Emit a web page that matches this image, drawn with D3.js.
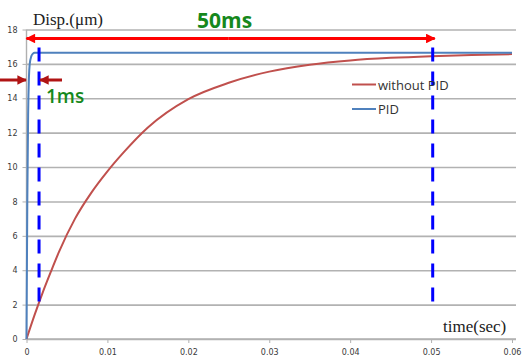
<!DOCTYPE html>
<html>
<head>
<meta charset="utf-8">
<script src="https://cdn.jsdelivr.net/npm/d3@7"></script>
<style>
body{margin:0;background:#fff;}
svg{display:block;}
.tick text{font-family:"DejaVu Sans",sans-serif;font-size:8px;fill:#3a3a3a;}
</style>
</head>
<body>
<div class="chart"></div>
<script>
var width = 531,
    height = 361;

// values
var timeRed = [0,0.001,0.002,0.003,0.004,0.006,0.008,0.01,0.012,0.015,0.02,0.025,0.03,0.035,0.04,0.045,0.05,0.055,0.06];
var withoutPid = [0,1.4,2.7,3.9,5.05,7.0,8.5,9.75,10.85,12.3,13.95,14.9,15.55,15.95,16.2,16.35,16.45,16.52,16.57];
var timeBlue = [0,0.0001,0.0002,0.0003,0.0004,0.0006,0.0008,0.001,0.002,0.06];
var pid = [0,8,13,15.2,16.0,16.45,16.6,16.65,16.65,16.65];
var xTicks = [0,0.01,0.02,0.03,0.04,0.05,0.06];
var yTicks = [0,2,4,6,8,10,12,14,16,18];
var legendLabels = ["without PID","PID"];
var markTimes = [0.00155,0.0502];

var svg = d3.select(".chart").append("svg")
  .attr("width",width).attr("height",height);

var x = d3.scaleLinear().domain([0,0.06]).range([26.5,512]);
var y = d3.scaleLinear().domain([0,18]).range([339,29.5]);

var defs = svg.append("defs");
function marker(id,col){
  defs.append("marker").attr("id",id)
    .attr("viewBox","0 0 10 10").attr("refX",9).attr("refY",5)
    .attr("markerWidth",3.6).attr("markerHeight",3.2)
    .attr("markerUnits","strokeWidth").attr("orient","auto")
    .append("path").attr("d","M0,0L10,5L0,10z").attr("fill",col);
}
marker("arRed","#ff0000");
marker("arDark","#b01414");

//axes, the left one also draws the gridlines
var xAxis = svg.append("g").attr("transform","translate(0,"+y(0)+")")
  .call(d3.axisBottom(x).tickValues(xTicks).tickSize(4).tickPadding(6)
    .tickFormat(function(d){return d===0?"0":d3.format(".2f")(d)}));
var yAxis = svg.append("g").attr("transform","translate("+x(0)+",0)")
  .call(d3.axisLeft(y).tickValues(yTicks).tickSize(4).tickPadding(5));
yAxis.selectAll(".tick").append("line").attr("class","grid")
  .attr("x1",0).attr("x2",x(0.06)+4-x(0));
svg.selectAll(".domain").attr("stroke","#b0b0b0").attr("stroke-width",1.4);
svg.selectAll(".tick line").attr("stroke","#b0b0b0");
svg.selectAll("line.grid").attr("stroke","#b2b2b2").attr("stroke-width",1.6);
xAxis.select(".domain").attr("d","M"+x(0)+",0H"+(x(0.06)+4));
yAxis.select(".domain").attr("d","M0,"+y(0)+"V"+y(18));

//curves
var line = d3.line().curve(d3.curveMonotoneX);
svg.append("path")
  .attr("d",line(timeRed.map(function(t,i){return [x(t),y(withoutPid[i])]})))
  .attr("fill","none").attr("stroke","#c0504d").attr("stroke-width",2);
svg.append("path")
  .attr("d",line(timeBlue.map(function(t,i){return [x(t),y(pid[i])]})))
  .attr("fill","none").attr("stroke","#4f81bd").attr("stroke-width",2);

//dashed markers
svg.selectAll(".mark").data(markTimes).enter()
  .append("line").attr("class","mark")
  .attr("x1",function(d){return x(d)}).attr("x2",function(d){return x(d)})
  .attr("y1",47.5).attr("y2",305)
  .attr("stroke","#0000ff").attr("stroke-width",3)
  .attr("stroke-dasharray","14,10");

//50ms arrow
svg.append("line")
  .attr("x1",x(0.025)).attr("x2",x(0.0502)+2).attr("y1",38.5).attr("y2",38.5)
  .attr("stroke","#ff0000").attr("stroke-width",3).attr("marker-end","url(#arRed)");
svg.append("line")
  .attr("x1",x(0.025)).attr("x2",x(0)).attr("y1",38.5).attr("y2",38.5)
  .attr("stroke","#ff0000").attr("stroke-width",3).attr("marker-end","url(#arRed)");

//1ms arrows
svg.append("line").attr("x1",0).attr("x2",x(0)-0.5).attr("y1",80).attr("y2",80)
  .attr("stroke","#b01414").attr("stroke-width",3).attr("marker-end","url(#arDark)");
svg.append("line").attr("x1",62).attr("x2",x(markTimes[0])+1).attr("y1",80).attr("y2",80)
  .attr("stroke","#b01414").attr("stroke-width",3).attr("marker-end","url(#arDark)");

//texts
svg.append("text").attr("x",197).attr("y",28).text("50ms")
  .attr("font-family","'Open Sans',sans-serif").attr("font-weight","bold")
  .attr("font-size",21).attr("fill","#15881c");
svg.append("text").attr("x",46).attr("y",103).text("1ms")
  .attr("font-family","'Open Sans',sans-serif").attr("font-weight","600")
  .attr("font-size",19).attr("fill","#15881c");
svg.append("text").attr("x",33).attr("y",25).text("Disp.(μm)")
  .attr("font-family","'Liberation Serif',serif").attr("font-size",17).attr("fill","#222");
svg.append("text").attr("x",443).attr("y",332).text("time(sec)")
  .attr("font-family","'Liberation Serif',serif").attr("font-size",17).attr("fill","#222");

//legend
var legColors = ["#c0504d","#4f81bd"];
var legend = svg.selectAll(".legend").data(legendLabels).enter()
  .append("g").attr("class","legend")
  .attr("transform",function(d,i){return "translate(352,"+(84.5+i*24.5)+")"});
legend.append("line").attr("x1",0).attr("x2",24)
  .attr("stroke",function(d,i){return legColors[i]}).attr("stroke-width",2);
legend.append("text").attr("x",26).attr("y",5).text(function(d){return d})
  .attr("font-family","'Open Sans',sans-serif").attr("font-size",13).attr("fill","#333");
</script>
</body>
</html>
